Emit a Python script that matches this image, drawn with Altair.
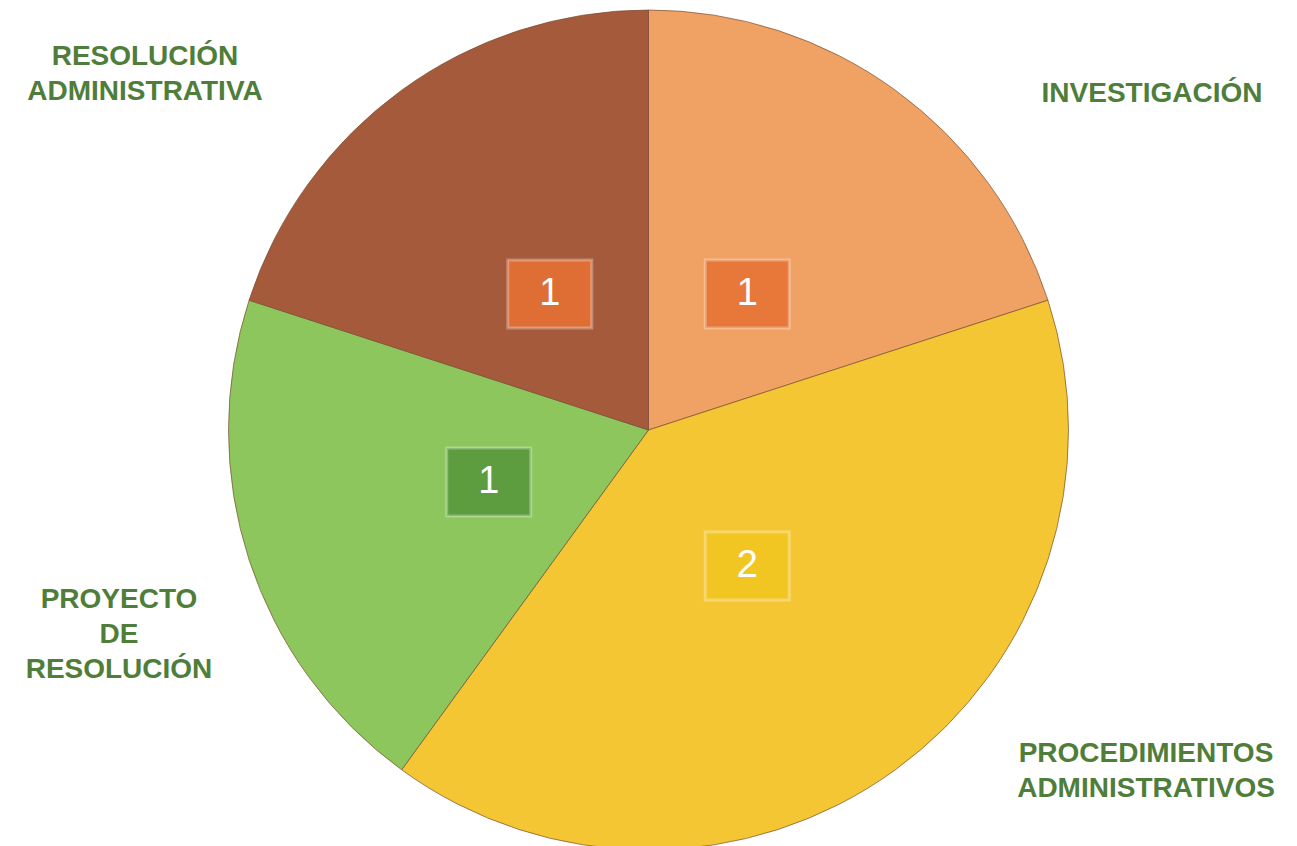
import altair as alt
import pandas as pd

categories = ["INVESTIGACIÓN", "PROCEDIMIENTOS ADMINISTRATIVOS", "PROYECTO DE RESOLUCIÓN", "RESOLUCIÓN ADMINISTRATIVA"]
label_lines = ["INVESTIGACIÓN", "PROCEDIMIENTOS\nADMINISTRATIVOS", "PROYECTO\nDE\nRESOLUCIÓN", "RESOLUCIÓN\nADMINISTRATIVA"]
values = [1, 2, 1, 1]
slice_colors = ["#F0A264", "#F5C634", "#8CC65C", "#A65A3C"]
box_colors = ["#E8783A", "#F2C622", "#5E9C40", "#DE6E34"]

W, H = 1281, 830
CX, CY = W / 2, H / 2
R_OUT = 420
R_BOX = 168
BW, BH = 42, 34

df = pd.DataFrame({
    "cat": categories,
    "lab": label_lines,
    "val": values,
    "idx": list(range(len(values))),
})

base = alt.Chart(df)

pie = base.mark_arc(outerRadius=R_OUT, stroke="#7a4e30", strokeWidth=1, strokeOpacity=0.7).encode(
    theta=alt.Theta("val:Q", stack=True),
    color=alt.Color("cat:N", scale=alt.Scale(domain=categories, range=slice_colors), legend=None),
    order=alt.Order("idx:Q"),
)

pos = base.transform_window(
    cum="sum(val)", sort=[alt.SortField("idx")], frame=[None, 0]
).transform_joinaggregate(
    tot="sum(val)"
).transform_calculate(
    mid="(datum.cum - datum.val/2) / datum.tot * 2 * PI",
).transform_calculate(
    bx=f"{CX} + {R_BOX} * sin(datum.mid)",
    by=f"{CY} - {R_BOX} * cos(datum.mid)",
).transform_calculate(
    bx1=f"datum.bx - {BW}", bx2=f"datum.bx + {BW}",
    by1=f"datum.by - {BH}", by2=f"datum.by + {BH}",
)

boxes = pos.mark_rect(stroke="#ffffff", strokeOpacity=0.3, strokeWidth=3).encode(
    x=alt.X("bx1:Q", scale=None, axis=None), x2="bx2:Q",
    y=alt.Y("by1:Q", scale=None, axis=None), y2="by2:Q",
    fill=alt.Fill("cat:N", scale=alt.Scale(domain=categories, range=box_colors), legend=None),
)

nums = pos.mark_text(font="Liberation Sans", fontSize=38, color="white", align="center", baseline="middle").encode(
    x=alt.X("bx:Q", scale=None, axis=None),
    y=alt.Y("by:Q", scale=None, axis=None),
    text="val:Q",
)

label_pos = {
    "INVESTIGACIÓN": (1144, 79),
    "PROCEDIMIENTOS ADMINISTRATIVOS": (1138, 739),
    "PROYECTO DE RESOLUCIÓN": (111, 585),
    "RESOLUCIÓN ADMINISTRATIVA": (137, 42),
}

layers = [pie, boxes, nums]
for c in categories:
    px, py = label_pos[c]
    layers.append(
        base.transform_filter(alt.datum.cat == c).mark_text(
            font="Liberation Sans", fontWeight="bold", fontSize=28, color="#4F7D3A",
            align="center", baseline="middle", lineBreak="\n", lineHeight=35,
        ).encode(x=alt.value(px), y=alt.value(py), text="lab:N")
    )

chart = alt.layer(*layers).resolve_scale(color="independent", fill="independent").properties(
    width=W, height=H, padding=0, background="white"
).configure_view(stroke=None)

chart.save("out.html", embed_options={"renderer": "svg", "actions": False})
